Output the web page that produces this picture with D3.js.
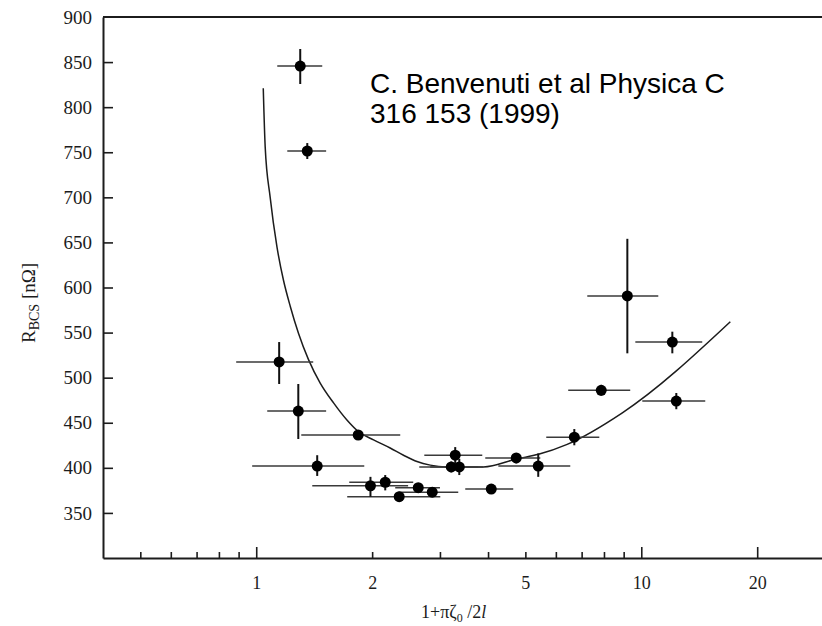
<!DOCTYPE html>
<html>
<head>
<meta charset="utf-8">
<script src="https://cdn.jsdelivr.net/npm/d3@7/dist/d3.min.js"></script>
<style>
  body { margin: 0; background: #fff; }
  svg { display: block; }
</style>
</head>
<body>
<svg id="chart" width="822" height="626"></svg>
<script>
// Surface resistance R_BCS of Nb/Cu films against 1+πζ0/2l
const xVals = [1.301, 1.357, 1.147, 1.286, 1.84, 1.44, 1.98, 2.163, 2.351, 2.635, 2.865,
               3.287, 3.21, 3.368, 4.077, 4.735, 5.4, 6.70, 7.87, 12.04, 12.33, 9.2];
const rVals = [845.6, 751.4, 517.4, 463, 436.4, 402, 380, 384, 368, 378, 373,
               414, 401, 401, 376.5, 411, 402, 434, 486, 539.5, 474, 590.6];
// error-bar extents
const xLo = [1.134, 1.204, 0.887, 1.068, 1.309, 0.976, 1.398, 1.744, 1.723, 2.296, 2.34,
             2.732, 2.651, 2.83, 3.49, 3.934, 4.253, 5.665, 6.46, 9.65, 10.06, 7.24];
const xHi = [1.484, 1.519, 1.406, 1.519, 2.366, 1.908, 2.48, 2.557, 3.006, 3.0, 3.347,
             3.864, 3.77, 3.887, 4.65, 5.467, 6.54, 7.78, 9.36, 14.4, 14.66, 11.07];
const rLo = [825.7, 742.5, 493, 432, 432, 391, 368, 375, 365, 374, 370,
             405, 395, 392, 373, 405, 390, 425, 480, 527, 465, 527];
const rHi = [864.5, 760.2, 539.5, 493, 441, 414, 390, 392, 371, 382, 377,
             423, 407, 410, 380, 416, 416, 443, 492, 551, 483, 654];

// theoretical curve
const fitX = [1.043, 1.055, 1.087, 1.132, 1.177, 1.226, 1.288, 1.367, 1.466, 1.588, 1.72,
              1.844, 2.017, 2.228, 2.413, 2.615, 2.831, 3.1, 3.89, 4.76, 5.41, 6.42, 8.93, 17.03];
const fitR = [821, 756, 700, 645, 608, 579, 549, 520, 494, 472, 453,
              440, 431, 422, 414, 407, 403, 401, 401, 410, 415, 426, 461, 562];

const yTicks = [350, 400, 450, 500, 550, 600, 650, 700, 750, 800, 850, 900];
const xLabelTicks = [1, 2, 5, 10, 20];
const xMajorTicks = [1, 10, 20];
const xMinorTicks = [0.5, 0.6, 0.7, 0.8, 0.9, 2, 3, 4, 5, 6, 7, 8, 9];

const svg = d3.select("#chart");
const serif = "'Liberation Serif', 'Times New Roman', serif";
const ink = "#1c1c1c";

const x = d3.scaleLog().domain([0.4, 30]).range([103, 825]);
const y = d3.scaleLinear().domain([300, 900]).range([558, 17]);

// top frame line
svg.append("line")
  .attr("x1", x(0.4)).attr("x2", 822)
  .attr("y1", y(900)).attr("y2", y(900))
  .attr("stroke", ink).attr("stroke-width", 2);

// left axis, ticks pointing inward
const yAxis = svg.append("g")
  .attr("transform", `translate(${x(0.4)},0)`)
  .call(d3.axisLeft(y).tickValues(yTicks).tickSizeInner(-10).tickSizeOuter(0).tickPadding(11));
yAxis.select(".domain").attr("stroke", ink).attr("stroke-width", 2);
yAxis.selectAll(".tick line").attr("stroke", ink).attr("stroke-width", 1.6)
  .filter(d => d === 900).remove();
yAxis.selectAll(".tick text").attr("font-family", serif).attr("font-size", 19).attr("fill", ink);

// bottom axis: line with labels
const xAxis = svg.append("g")
  .attr("transform", `translate(0,${y(300)})`)
  .call(d3.axisBottom(x).tickValues(xLabelTicks).tickFormat(d3.format("d"))
        .tickSize(0).tickPadding(18));
xAxis.select(".domain").attr("stroke", ink).attr("stroke-width", 2);
xAxis.selectAll(".tick text").attr("font-family", serif).attr("font-size", 18).attr("fill", ink);

// major and minor ticks pointing upward
const xMaj = svg.append("g")
  .attr("transform", `translate(0,${y(300)})`)
  .call(d3.axisBottom(x).tickValues(xMajorTicks).tickFormat("").tickSizeInner(-11).tickSizeOuter(0));
xMaj.select(".domain").remove();
xMaj.selectAll(".tick line").attr("stroke", ink).attr("stroke-width", 1.6);

const xMin = svg.append("g")
  .attr("transform", `translate(0,${y(300)})`)
  .call(d3.axisBottom(x).tickValues(xMinorTicks).tickFormat("").tickSizeInner(-6).tickSizeOuter(0));
xMin.select(".domain").remove();
xMin.selectAll(".tick line").attr("stroke", ink).attr("stroke-width", 1.6);

// fitted curve
const line = d3.line()
  .x((d, i) => x(fitX[i]))
  .y((d, i) => y(fitR[i]))
  .curve(d3.curveMonotoneX);
svg.append("path")
  .attr("d", line(fitX))
  .attr("fill", "none")
  .attr("stroke", ink)
  .attr("stroke-width", 1.5);

// data points with error bars
const idx = d3.range(xVals.length);
const pts = svg.append("g");
pts.selectAll("line.h").data(idx).join("line")
  .attr("class", "h")
  .attr("x1", i => x(xLo[i])).attr("x2", i => x(xHi[i]))
  .attr("y1", i => y(rVals[i])).attr("y2", i => y(rVals[i]))
  .attr("stroke", "#3a3a3a").attr("stroke-width", 1.5);
pts.selectAll("line.v").data(idx).join("line")
  .attr("class", "v")
  .attr("x1", i => x(xVals[i])).attr("x2", i => x(xVals[i]))
  .attr("y1", i => y(rLo[i])).attr("y2", i => y(rHi[i]))
  .attr("stroke", "#111").attr("stroke-width", 2);
pts.selectAll("circle").data(idx).join("circle")
  .attr("cx", i => x(xVals[i])).attr("cy", i => y(rVals[i]))
  .attr("r", 5.5).attr("fill", "#000");

// axis titles
const yt = svg.append("text")
  .attr("transform", "translate(35,343) rotate(-90)")
  .attr("font-family", serif).attr("font-size", 19).attr("fill", ink);
yt.append("tspan").text("R");
yt.append("tspan").attr("font-size", 14).attr("dy", 4).text("BCS");
yt.append("tspan").attr("dy", -4).text(" [nΩ]");

const xt = svg.append("text")
  .attr("x", 421).attr("y", 618)
  .attr("font-family", serif).attr("font-size", 18).attr("fill", ink);
xt.append("tspan").text("1+πζ");
xt.append("tspan").attr("font-size", 12).attr("dy", 4).text("0");
xt.append("tspan").attr("dy", -4).text(" /2");
xt.append("tspan").attr("font-style", "italic").text("l");

// source reference
const note = svg.append("text")
  .attr("font-family", "'Liberation Sans', Arial, sans-serif")
  .attr("font-size", 28).attr("fill", "#000");
note.append("tspan").attr("x", 370).attr("y", 93).text("C. Benvenuti et al Physica C");
note.append("tspan").attr("x", 370).attr("y", 123).text("316 153 (1999)");
</script>
</body>
</html>
